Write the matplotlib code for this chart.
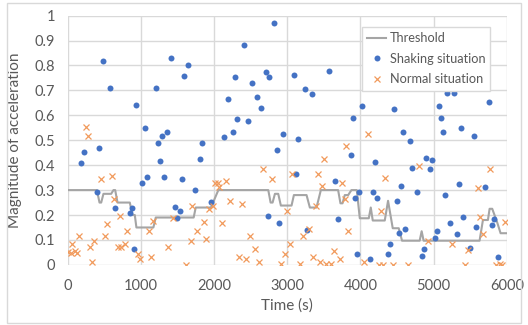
import matplotlib
matplotlib.use("Agg")
import matplotlib.pyplot as plt
from matplotlib.patches import Rectangle

# Data
shake_t = [186, 218, 395, 427, 486, 577, 650, 850, 875, 904, 934, 1022, 1052, 1081,
           1202, 1233, 1259, 1290, 1320, 1352, 1409, 1468, 1500, 1531, 1559, 1590,
           1650, 1738, 1809, 1838, 1956, 2136, 2195, 2254, 2286, 2316, 2404, 2463,
           2525, 2586, 2643, 2704, 2736, 2755, 2823, 2854, 2882, 2941, 3091, 3118,
           3150, 3241, 3273, 3332, 3568, 3655, 3691, 3868, 3898, 3927, 3959, 3986,
           4018, 4136, 4168, 4200, 4227, 4373, 4405, 4462, 4495, 4527, 4555, 4587,
           4614, 4673, 4705, 4773, 4836, 4864, 4891, 4955, 4982, 5014, 5041, 5073,
           5100, 5130, 5159, 5188, 5223, 5280, 5314, 5341, 5368, 5400, 5491, 5548,
           5582, 5700, 5757, 5791, 5818, 5877]
shake_a = [0.408, 0.453, 0.291, 0.470, 0.816, 0.710, 0.227, 0.207, 0.227, 0.063,
           0.640, 0.327, 0.550, 0.354, 0.708, 0.488, 0.418, 0.517, 0.354, 0.532,
           0.828, 0.234, 0.187, 0.215, 0.345, 0.757, 0.802, 0.301, 0.424, 0.488,
           0.254, 0.512, 0.667, 0.534, 0.754, 0.584, 0.881, 0.578, 0.731, 0.672,
           0.630, 0.772, 0.195, 0.752, 0.971, 0.461, 0.166, 0.527, 0.760, 0.365,
           0.504, 0.704, 0.139, 0.684, 0.778, 0.335, 0.183, 0.441, 0.590, 0.267,
           0.045, 0.294, 0.637, 0.024, 0.294, 0.411, 0.267, 0.044, 0.083, 0.625,
           0.257, 0.129, 0.318, 0.532, 0.142, 0.497, 0.389, 0.291, 0.035, 0.065,
           0.430, 0.385, 0.420, 0.107, 0.134, 0.637, 0.588, 0.532, 0.281, 0.690,
           0.168, 0.690, 0.122, 0.326, 0.549, 0.192, 0.069, 0.517, 0.151, 0.314,
           0.652, 0.158, 0.186, 0.031]

normal_t = [8, 45, 59, 100, 131, 159, 250, 273, 304, 340, 366, 456, 515, 542, 604,
            632, 690, 722, 735, 786, 810, 963, 993, 1109, 1138, 1170, 1377, 1434,
            1620, 1679, 1702, 1764, 1864, 1897, 1927, 1991, 2014, 2054, 2072, 2106,
            2165, 2225, 2342, 2377, 2436, 2495, 2556, 2613, 2675, 2792, 2913, 2968,
            3002, 3032, 3066, 3181, 3213, 3295, 3357, 3389, 3416, 3448, 3473, 3505,
            3536, 3593, 3632, 3718, 3748, 3784, 3809, 3836, 4043, 4100, 4250, 4284,
            4309, 4338, 4440, 4643, 4805, 4920, 5250, 5430, 5466, 5607, 5636, 5672,
            5775, 5845, 5902, 5938, 5970]
normal_a = [0.053, 0.047, 0.083, 0.056, 0.047, 0.116, 0.555, 0.517, 0.073, 0.013,
            0.095, 0.345, 0.117, 0.164, 0.356, 0.265, 0.073, 0.196, 0.073, 0.083,
            0.136, 0.045, 0.024, 0.137, 0.033, 0.175, 0.073, 0.189, 0.0, 0.095,
            0.236, 0.136, 0.174, 0.103, 0.225, 0.236, 0.327, 0.327, 0.314, 0.166,
            0.336, 0.257, 0.033, 0.244, 0.024, 0.116, 0.064, 0.013, 0.385, 0.344,
            0.005, 0.044, 0.216, 0.083, 0.365, 0.005, 0.116, 0.144, 0.033, 0.235,
            0.365, 0.013, 0.316, 0.426, 0.004, 0.004, 0.055, 0.025, 0.327, 0.265,
            0.476, 0.135, 0.013, 0.526, 0.0, 0.217, 0.0, 0.350, 0.0, 0.0,
            0.398, 0.095, 0.085, 0.0, 0.058, 0.310, 0.192, 0.124, 0.386, 0.0,
            0.005, 0.0, 0.171]

thr_t = [0, 400, 436, 459, 490, 595, 627, 650, 682, 850, 886, 918, 940, 1172, 1204,
         1722, 1750, 1958, 2059, 2741, 2773, 2800, 2832, 2877, 2913, 3059, 3091,
         3264, 3309, 3400, 3459, 3695, 3727, 3755, 3786, 3832, 3877, 3950, 3991,
         4114, 4141, 4168, 4332, 4377, 4441, 4523, 4568, 4809, 4836, 4863, 5627,
         5673, 5741, 5764, 5800, 5868, 5914, 6000]
thr_a = [0.30, 0.30, 0.25, 0.25, 0.285, 0.285, 0.30, 0.30, 0.25, 0.25, 0.20, 0.20,
         0.15, 0.15, 0.19, 0.19, 0.23, 0.23, 0.30, 0.30, 0.25, 0.25, 0.285, 0.285,
         0.238, 0.238, 0.28, 0.28, 0.23, 0.23, 0.30, 0.30, 0.247, 0.247, 0.28, 0.28,
         0.30, 0.30, 0.187, 0.187, 0.23, 0.178, 0.178, 0.257, 0.147, 0.147, 0.097,
         0.097, 0.135, 0.097, 0.097, 0.18, 0.18, 0.225, 0.225, 0.17, 0.127, 0.127]

x_ticks = [0, 1000, 2000, 3000, 4000, 5000, 6000]
y_ticks = [0, 0.1, 0.2, 0.3, 0.4, 0.5, 0.6, 0.7, 0.8, 0.9, 1]
y_labels = ["0", "0.1", "0.2", "0.3", "0.4", "0.5", "0.6", "0.7", "0.8", "0.9", "1"]

plt.rcParams['font.family'] = ['Lato', 'DejaVu Sans']
text_col = '#595959'
grid_col = '#d9d9d9'

fig = plt.figure(figsize=(5.28, 3.25), dpi=100)
ax = fig.add_axes([0.128, 0.185, 0.832, 0.767])

thr_line, = ax.plot(thr_t, thr_a, color='#a5a5a5', lw=1.5, label='Threshold', zorder=3)
sh, = ax.plot(shake_t, shake_a, 'o', color='#4472c4', ms=4.3, mew=0, label='Shaking situation', zorder=4)
nm, = ax.plot(normal_t, normal_a, 'x', color='#f19a5c', ms=5, mew=0.9, label='Normal situation', zorder=5)

ax.set_xlim(0, 6000)
ax.set_ylim(0, 1)
ax.set_xticks(x_ticks)
ax.set_yticks(y_ticks)
ax.set_yticklabels(y_labels)
ax.grid(True, color=grid_col, lw=1)
ax.set_axisbelow(True)
for s in ax.spines.values():
    s.set_visible(False)
ax.tick_params(length=0, labelsize=10.5, colors=text_col)
ax.tick_params(axis='x', pad=10)
ax.tick_params(axis='y', pad=9)

ax.set_xlabel('Time (s)', fontsize=11, color=text_col, labelpad=4)
ax.set_ylabel('Magnitude of acceleration', fontsize=11, color=text_col, labelpad=9)

leg = fig.legend(handles=[thr_line, sh, nm], loc='upper left',
                 bbox_to_anchor=(0.686, 0.917), fontsize=9.2, frameon=True,
                 fancybox=False, edgecolor=grid_col, framealpha=1,
                 handlelength=1.5, handletextpad=0.25, labelspacing=0.68,
                 borderpad=0.4, borderaxespad=0)
for t in leg.get_texts():
    t.set_color(text_col)
leg.get_frame().set_linewidth(1)

# chart area border
fig.patches.append(Rectangle((6.7 / 528, 2.3 / 325), 514 / 528, 320 / 325,
                             transform=fig.transFigure, fill=False,
                             edgecolor=grid_col, lw=1))

fig.savefig('out.png', dpi=100)
